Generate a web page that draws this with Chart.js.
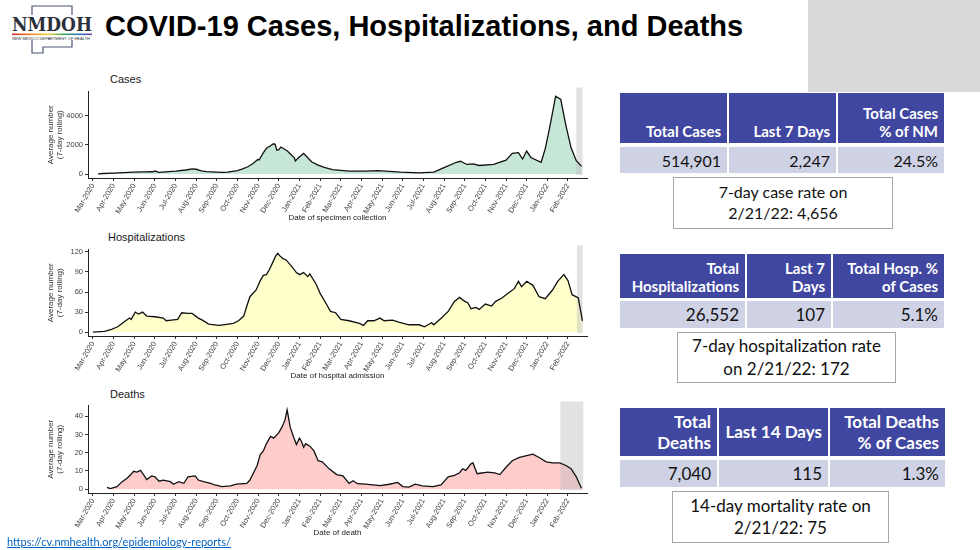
<!DOCTYPE html>
<html lang="en">
<head>
<meta charset="UTF-8">
<title>COVID-19 Cases, Hospitalizations, and Deaths</title>
<script src="https://cdn.jsdelivr.net/npm/chart.js"></script>
<style>
    body {
        margin: 0;
        width: 980px;
        height: 550px;
        position: relative;
        overflow: hidden;
        background: #fff;
        font-family: "Liberation Sans", Arial, sans-serif;
    }
    .abs { position: absolute; }
    .grey-box { left: 808px; top: 0; width: 172px; height: 92px; background: #d9d9d9; }
    .main-title { left: 105px; top: 10px; font: bold 29px "Liberation Sans", Arial, sans-serif; color: #000; white-space: nowrap; }
    .chart-title { font-size: 11px; color: #1a1a1a; }
    canvas { position: absolute; }

    /* stats tables */
    .stats {
        position: absolute;
        left: 620px;
        display: grid;
        column-gap: 2px;
        font-family: Lato, "Open Sans", sans-serif;
    }
    .stats .h {
        background: #3f47a1;
        color: #fff;
        font-weight: bold;
        text-align: right;
        display: flex;
        flex-direction: column;
        justify-content: flex-end;
        padding: 0 6px 3px 0;
        line-height: 1.2;
    }
    .stats .h.mid { justify-content: center; padding-bottom: 0; }
    .stats .d {
        background: #cfd2e5;
        text-align: right;
        padding-right: 6px;
        display: flex;
        align-items: center;
        justify-content: flex-end;
        color: #111;
    }
    .note {
        position: absolute;
        box-sizing: border-box;
        border: 1px solid #a6a6a6;
        background: #fff;
        text-align: center;
        font-family: Lato, "Open Sans", sans-serif;
        color: #111;
        display: flex;
        align-items: center;
        justify-content: center;
        line-height: 1.3;
    }
    .url { left: 7px; top: 535px; font: 11px Lato, "Open Sans", sans-serif; color: #0563c1; text-decoration: underline; }
</style>
</head>
<body>

<div class="abs grey-box"></div>

<!-- logo -->
<svg class="abs" style="left:0;top:0" width="100" height="60">
    <defs>
        <linearGradient id="rb" x1="0" x2="1" y1="0" y2="0">
            <stop offset="0" stop-color="#d6262b"/>
            <stop offset="0.25" stop-color="#f08a24"/>
            <stop offset="0.45" stop-color="#f4d03f"/>
            <stop offset="0.65" stop-color="#3aa657"/>
            <stop offset="0.85" stop-color="#2e6fc0"/>
            <stop offset="1" stop-color="#7b3fa0"/>
        </linearGradient>
    </defs>
    <path d="M32 15 V6 H72 V15 M72 40 V47 H43 V53 H32 V40" fill="none" stroke="#4a5676" stroke-width="1.2"/>
    <text x="12" y="31" font-family="DejaVu Serif" font-weight="bold" font-size="18" fill="#2b2f3a" textLength="80" lengthAdjust="spacingAndGlyphs">NMDOH</text>
    <rect x="12" y="33.5" width="80" height="1.6" fill="url(#rb)"/>
    <text x="12" y="39.5" font-family="Liberation Sans" font-size="4.2" fill="#2b2f3a" textLength="78" lengthAdjust="spacingAndGlyphs">NEW MEXICO DEPARTMENT OF HEALTH</text>
</svg>

<div class="abs main-title">COVID-19 Cases, Hospitalizations, and Deaths</div>

<div class="abs chart-title" style="left:110px;top:73px">Cases</div>
<div class="abs chart-title" style="left:108px;top:231px">Hospitalizations</div>
<div class="abs chart-title" style="left:110px;top:388px">Deaths</div>

<canvas id="casesChart" width="560" height="140" style="left:40px;top:85px"></canvas>
<canvas id="hospChart" width="560" height="140" style="left:40px;top:243px"></canvas>
<canvas id="deathsChart" width="560" height="141" style="left:40px;top:399px"></canvas>

<!-- cases table -->
<div class="stats" style="top:93px;grid-template-columns:107px 107px 106px;grid-template-rows:50px 26px;row-gap:4px">
    <div class="h" style="font-size:15px">Total Cases</div>
    <div class="h" style="font-size:15px">Last 7 Days</div>
    <div class="h" style="font-size:15px">Total Cases<br>% of NM</div>
    <div class="d" style="font-size:16px">514,901</div>
    <div class="d" style="font-size:16px">2,247</div>
    <div class="d" style="font-size:16px">24.5%</div>
</div>
<div class="note" style="left:673px;top:177px;width:220px;height:52px;font-size:16px">7-day case rate on<br>2/21/22: 4,656</div>

<!-- hospitalization table -->
<div class="stats" style="top:254px;grid-template-columns:125px 84px 111px;grid-template-rows:44px 27px;row-gap:3px">
    <div class="h" style="font-size:15px">Total<br>Hospitalizations</div>
    <div class="h" style="font-size:15px">Last 7<br>Days</div>
    <div class="h" style="font-size:15px">Total Hosp. %<br>of Cases</div>
    <div class="d" style="font-size:17px">26,552</div>
    <div class="d" style="font-size:17px">107</div>
    <div class="d" style="font-size:17px">5.1%</div>
</div>
<div class="note" style="left:677px;top:332px;width:219px;height:51px;font-size:17px">7-day hospitalization rate<br>on 2/21/22: 172</div>

<!-- deaths table -->
<div class="stats" style="top:408px;grid-template-columns:97px 109px 115px;grid-template-rows:48px 27px;row-gap:4px">
    <div class="h" style="font-size:17px">Total<br>Deaths</div>
    <div class="h mid" style="font-size:17px">Last 14 Days</div>
    <div class="h" style="font-size:17px">Total Deaths<br>% of Cases</div>
    <div class="d" style="font-size:17px">7,040</div>
    <div class="d" style="font-size:17px">115</div>
    <div class="d" style="font-size:17px">1.3%</div>
</div>
<div class="note" style="left:672px;top:491px;width:217px;height:52px;font-size:17px">14-day mortality rate on<br>2/21/22: 75</div>

<div class="abs url">https://cv.nmhealth.org/epidemiology-reports/</div>

<script>
    // month tick labels (x = months since 1 Mar 2020)
    const monthLabels = [
        'Mar-2020', 'Apr-2020', 'May-2020', 'Jun-2020', 'Jul-2020', 'Aug-2020',
        'Sep-2020', 'Oct-2020', 'Nov-2020', 'Dec-2020', 'Jan-2021', 'Feb-2021',
        'Mar-2021', 'Apr-2021', 'May-2021', 'Jun-2021', 'Jul-2021', 'Aug-2021',
        'Sep-2021', 'Oct-2021', 'Nov-2021', 'Dec-2021', 'Jan-2022', 'Feb-2022'
    ];

    // cases, 7-day rolling average
    const casesT = [0.25, 0.5, 1, 1.5, 1.95, 2.5, 2.9, 3.0, 3.2, 3.5, 4, 4.5, 4.8, 5, 5.25, 5.5, 6, 6.3, 6.5,
        7, 7.25, 7.5, 7.75, 7.98, 8.05, 8.26, 8.4, 8.58, 8.74, 8.82, 8.9, 9.0, 9.1, 9.4, 9.6, 9.75, 9.8,
        9.95, 10.2, 10.4, 10.6, 10.9, 11.2, 11.6, 12.4, 13.2, 13.8, 14.9, 15.8, 16.5, 17, 17.6, 17.8,
        18.1, 18.4, 18.7, 19.4, 20, 20.3, 20.6, 20.8, 21.0, 21.2, 21.7, 21.9, 22.1, 22.4, 22.65, 22.9,
        23.15, 23.4, 23.66];
    const cases = [20, 40, 65, 100, 130, 150, 160, 210, 120, 150, 200, 280, 350, 330, 220, 170, 140, 110, 130,
        240, 350, 500, 720, 1000, 980, 1490, 1770, 1930, 2080, 2040, 1640, 1680, 1860, 1600, 1330, 1120, 900,
        1120, 1420, 1120, 830, 610, 460, 310, 200, 200, 240, 130, 80, 130, 440, 810, 880,
        660, 700, 590, 660, 960, 1420, 1470, 1030, 1580, 1140, 810, 1750, 3110, 5340, 5120, 3330,
        1800, 920, 530];

    // hospitalizations, 7-day rolling average
    const hospT = [0, 0.56, 0.9, 1.2, 1.5, 1.77, 1.85, 2.05, 2.2, 2.4, 2.6, 3.0, 3.4, 3.55, 3.8, 4.1, 4.3, 4.6,
        4.8, 5.1, 5.3, 5.6, 5.9, 6.1, 6.3, 6.8, 7.05, 7.3, 7.45, 7.6, 7.9, 8.1, 8.25, 8.4, 8.55, 8.7, 8.85,
        8.95, 9.05, 9.2, 9.35, 9.6, 9.85, 10.0, 10.2, 10.4, 10.5, 10.8, 11.0, 11.3, 11.5, 11.75, 12.0,
        12.4, 12.9, 13.1, 13.3, 13.6, 13.9, 14.1, 14.5, 14.8, 15.3, 15.8, 16.05, 16.4, 16.5, 16.9, 17.2,
        17.5, 17.75, 18.0, 18.15, 18.3, 18.55, 18.7, 19.0, 19.3, 19.5, 19.8, 20.1, 20.4, 20.6, 20.75,
        21.0, 21.3, 21.6, 21.9, 22.25, 22.5, 22.8, 23.0, 23.2, 23.5, 23.7];
    const hosp = [0, 1, 4, 8, 15, 21, 19, 30, 27, 30, 24, 23, 21, 17, 18, 19, 29, 28,
        28, 21, 18, 12, 11, 10, 11, 13, 17, 24, 39, 53, 63, 77, 85, 86, 94, 104, 114,
        118, 114, 110, 108, 99, 89, 86, 89, 83, 87, 72, 58, 42, 31, 29, 19,
        17, 13, 10, 17, 17, 21, 17, 18, 15, 11, 11, 8, 14, 11, 22, 31,
        46, 52, 46, 44, 35, 37, 34, 42, 39, 46, 51, 58, 65, 76, 68,
        76, 70, 53, 50, 63, 76, 86, 77, 56, 51, 17];

    // deaths, 7-day rolling average
    const deathsT = [0.68, 0.84, 1.16, 1.4, 1.65, 1.8, 1.97, 2.13, 2.3, 2.45, 2.6, 2.85, 3.0, 3.2, 3.4, 3.75,
        3.9, 4.15, 4.4, 4.6, 4.95, 5.1, 5.35, 5.7, 5.9, 6.25, 6.65, 6.95, 7.45, 7.6, 7.75, 7.95, 8.1, 8.25,
        8.4, 8.6, 8.75, 9.0, 9.15, 9.3, 9.4, 9.45, 9.55, 9.7, 9.85, 10.0, 10.1, 10.2, 10.3, 10.5, 10.7,
        10.9, 11.1, 11.45, 11.8, 12.1, 12.4, 12.6, 12.8, 13.2, 13.9, 14.35, 14.75, 15.0, 15.3, 15.6, 15.95,
        16.45, 16.85, 17.2, 17.5, 17.75, 17.9, 18.05, 18.3, 18.4, 18.6, 18.9, 19.1, 19.45, 19.7, 20.0,
        20.3, 20.65, 20.95, 21.3, 21.6, 21.95, 22.25, 22.6, 22.9, 23.15, 23.4, 23.65];
    const deaths = [1, 0.3, 1.4, 4, 6, 7.6, 9.8, 9.4, 10.3, 8, 5.3, 7.3, 6.8, 4.4, 5, 4.1,
        2.7, 4.1, 3.2, 6.8, 7.3, 5, 4.1, 3.2, 2.3, 1.4, 1.8, 2.8, 3.2, 5, 8.5, 13, 19, 21,
        25, 29, 28, 31, 34, 38, 43.5, 40.5, 34, 29, 24.5, 28, 26, 23, 25, 23.6, 21,
        15.6, 15, 11, 8, 7.3, 3.2, 4.6, 3, 2.8, 2, 2.7, 3.7, 1.4, 1.1, 2.8, 1.8,
        1.4, 2.3, 6.8, 7.6, 9, 11.2, 10.3, 13.9, 14.4, 8.5, 9, 9.4, 9, 8, 12,
        15.6, 17.4, 18.3, 19.2, 17.4, 15, 14.4, 14.4, 13, 11.2, 6.8, 0.5];

    // y tick labels
    const casesTicks = [0, 2000, 4000];
    const hospTicks = [0, 30, 60, 90, 120];
    const deathsTicks = [0, 10, 20, 30, 40];

    // shaded (incomplete data) periods, in months since Mar 2020
    const casesBand = [23.4, 23.71];
    const hospBand = [23.43, 23.71];
    const deathsBand = [22.63, 23.74];

    Chart.defaults.font.family = '"Liberation Sans", Arial, sans-serif';
    Chart.defaults.animation = false;

    function makeChart(id, xs, ys, yTicks, yMin, yMax, fillColor, xTitle, band) {
        const bandPlugin = {
            id: 'band',
            beforeDatasetsDraw(chart) {
                const { ctx, chartArea, scales } = chart;
                const x0 = scales.x.getPixelForValue(band[0]);
                const x1 = scales.x.getPixelForValue(band[1]);
                const y1 = scales.y.getPixelForValue(0);
                ctx.save();
                ctx.fillStyle = 'rgba(185,185,185,0.42)';
                ctx.fillRect(x0, chartArea.top - 4, x1 - x0, y1 - chartArea.top + 5);
                ctx.restore();
            }
        };

        new Chart(document.getElementById(id), {
            type: 'line',
            data: {
                datasets: [{
                    data: xs.map((t, i) => ({ x: t, y: ys[i] })),
                    borderColor: '#111',
                    borderWidth: 1.3,
                    backgroundColor: fillColor,
                    fill: 'origin',
                    pointRadius: 0,
                    tension: 0
                }]
            },
            options: {
                responsive: false,
                layout: { padding: { top: 4, right: 13, left: 6, bottom: 0 } },
                plugins: {
                    legend: { display: false },
                    tooltip: { enabled: false },
                    filler: { drawTime: 'beforeDatasetsDraw' }
                },
                scales: {
                    x: {
                        type: 'linear',
                        min: -0.24,
                        max: 23.92,
                        afterBuildTicks: s => { s.ticks = monthLabels.map((_, i) => ({ value: i })); },
                        afterFit: s => { s.height = 47; },
                        grid: { drawOnChartArea: false, tickLength: 3, color: '#333' },
                        border: { color: '#222', width: 1 },
                        ticks: {
                            autoSkip: false,
                            minRotation: 60,
                            maxRotation: 60,
                            padding: 1,
                            color: '#404040',
                            font: { size: 7.5 },
                            callback: (v, i) => monthLabels[i]
                        },
                        title: {
                            display: true,
                            text: xTitle,
                            color: '#222',
                            font: { size: 8 },
                            padding: { top: 0, bottom: 2 }
                        }
                    },
                    y: {
                        min: yMin,
                        max: yMax,
                        afterBuildTicks: s => { s.ticks = yTicks.map(v => ({ value: v })); },
                        afterFit: s => { s.width = 42; },
                        grid: { drawOnChartArea: false, tickLength: 3, color: '#333' },
                        border: { color: '#222', width: 1 },
                        ticks: { padding: 2, color: '#404040', font: { size: 7.5 }, callback: v => String(v) },
                        title: {
                            display: true,
                            text: ['Average number', '(7-day rolling)'],
                            color: '#333',
                            font: { size: 8, lineHeight: 1.15 },
                            padding: 0
                        }
                    }
                }
            },
            plugins: [bandPlugin]
        });
    }

    makeChart('casesChart', casesT, cases, casesTicks, -270, 5670, '#c7e7d6', 'Date of specimen collection', casesBand);
    makeChart('hospChart', hospT, hosp, hospTicks, -5.8, 123.6, '#ffffcc', 'Date of hospital admission', hospBand);
    makeChart('deathsChart', deathsT, deaths, deathsTicks, -2.1, 45.9, '#ffcccc', 'Date of death', deathsBand);
</script>
</body>
</html>
